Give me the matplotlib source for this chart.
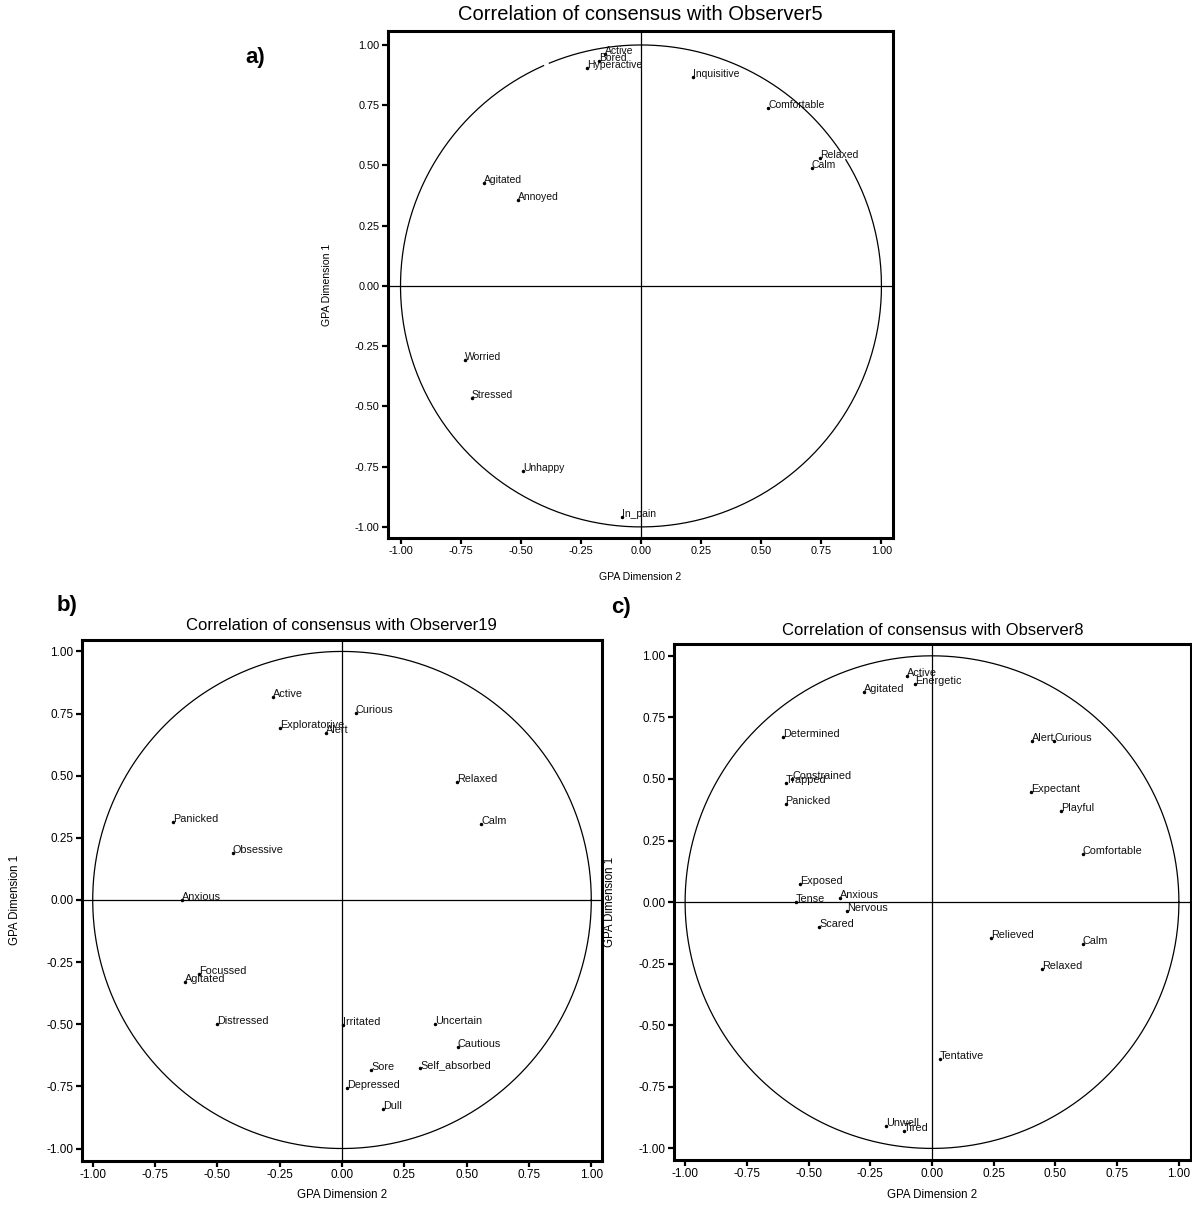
import numpy as np
import matplotlib
matplotlib.use("Agg")
import matplotlib.pyplot as plt

plt.rcParams['font.family'] = ['Liberation Sans', 'DejaVu Sans']
plt.rcParams['axes.unicode_minus'] = False

# ---------------- data ----------------
# Panel a: Observer5
a_labels = ["Active", "Bored", "Hyperactive", "Inquisitive", "Comfortable", "Relaxed",
            "Calm", "Agitated", "Annoyed", "Worried", "Stressed", "Unhappy", "In_pain"]
a_dim2 = [-0.15, -0.175, -0.226, 0.218, 0.529, 0.744, 0.71, -0.653, -0.51, -0.732, -0.704, -0.489, -0.08]
a_dim1 = [0.963, 0.935, 0.903, 0.869, 0.740, 0.530, 0.49, 0.429, 0.357, -0.307, -0.466, -0.77, -0.957]

# Panel b: Observer19
b_labels = ["Active", "Curious", "Exploratorive", "Alert", "Relaxed", "Calm", "Panicked",
            "Obsessive", "Anxious", "Focussed", "Agitated", "Distressed", "Irritated",
            "Uncertain", "Cautious", "Self_absorbed", "Sore", "Depressed", "Dull"]
b_dim2 = [-0.275, 0.056, -0.249, -0.064, 0.46, 0.558, -0.679, -0.439, -0.64, -0.574, -0.631,
          -0.5, 0.005, 0.374, 0.465, 0.314, 0.117, 0.02, 0.163]
b_dim1 = [0.816, 0.751, 0.691, 0.671, 0.476, 0.305, 0.315, 0.188, 0.0, -0.298, -0.329,
          -0.499, -0.503, -0.499, -0.59, -0.677, -0.684, -0.755, -0.843]

# Panel c: Observer8
c_labels = ["Active", "Energetic", "Agitated", "Determined", "Alert", "Curious", "Constrained",
            "Trapped", "Panicked", "Expectant", "Playful", "Comfortable", "Exposed", "Anxious",
            "Tense", "Nervous", "Scared", "Relieved", "Calm", "Relaxed", "Tentative", "Unwell", "Tired"]
c_dim2 = [-0.103, -0.068, -0.276, -0.605, 0.404, 0.496, -0.567, -0.593, -0.593, 0.40, 0.521,
          0.61, -0.536, -0.372, -0.552, -0.345, -0.456, 0.24, 0.61, 0.445, 0.031, -0.185, -0.113]
c_dim1 = [0.918, 0.884, 0.854, 0.671, 0.653, 0.653, 0.5, 0.483, 0.399, 0.447, 0.368,
          0.194, 0.072, 0.018, -0.001, -0.035, -0.1, -0.144, -0.171, -0.27, -0.637, -0.908, -0.929]

ticks = [-1.00, -0.75, -0.50, -0.25, 0.00, 0.25, 0.50, 0.75, 1.00]
tick_labels = ["%.2f" % t for t in ticks]

W, H = 1192, 1207
fig = plt.figure(figsize=(W / 100, H / 100), dpi=100)


def make_axes(left, right, top, bottom):
    return fig.add_axes([left / W, 1 - bottom / H, (right - left) / W, (bottom - top) / H])


def panel(ax, xlim, ylim, labels, xs, ys, title, title_size, lab_size, tick_size,
          axlab_size, ylab_x, xlab_y, title_y, arcs=None):
    ax.set_xlim(*xlim)
    ax.set_ylim(*ylim)
    ax.axhline(0, color='black', lw=0.9)
    ax.axvline(0, color='black', lw=0.9)
    if arcs is None:
        arcs = [(0, 360)]
    for a0, a1 in arcs:
        th = np.radians(np.linspace(a0, a1, 400))
        ax.plot(np.cos(th), np.sin(th), color='black', lw=0.9)
    ax.plot(xs, ys, linestyle='none', marker='o', markersize=1.5, color='black')
    for lab, x, y in zip(labels, xs, ys):
        ax.text(x, y, lab, fontsize=lab_size, ha='left', va='baseline', color='#111111')
    ax.set_xticks(ticks)
    ax.set_xticklabels(tick_labels)
    ax.set_yticks(ticks)
    ax.set_yticklabels(tick_labels)
    ax.tick_params(direction='out', length=4, width=1.6, labelsize=tick_size, pad=2)
    for s in ax.spines.values():
        s.set_linewidth(2.2)
    ax.set_xlabel("GPA Dimension 2", fontsize=axlab_size, va='center')
    ax.set_ylabel("GPA Dimension 1", fontsize=axlab_size, va='center')
    ax.xaxis.set_label_coords(0.5, xlab_y)
    ax.yaxis.set_label_coords(ylab_x, 0.5)
    ax.text(0.5, title_y, title, transform=ax.transAxes, ha='center', va='center',
            fontsize=title_size)


# Panel a
ax_a = make_axes(388, 893, 31, 538)
panel(ax_a, (-1.052, 1.048), (-1.046, 1.058), a_labels, a_dim2, a_dim1,
      "Correlation of consensus with Observer5", 14.5, 7.5, 7.8, 7.6,
      -0.121, -0.077, 1.032, arcs=[(33.7, 112.4), (113.9, 391.6)])

# Panel b
ax_b = make_axes(82, 601.5, 640, 1160.7)
panel(ax_b, (-1.043, 1.041), (-1.049, 1.046), b_labels, b_dim2, b_dim1,
      "Correlation of consensus with Observer19", 12, 7.8, 8.5, 8.3,
      -0.129, -0.066, 1.027)

# Panel c
ax_c = make_axes(674, 1190.5, 643.5, 1160)
panel(ax_c, (-1.045, 1.047), (-1.047, 1.05), c_labels, c_dim2, c_dim1,
      "Correlation of consensus with Observer8", 12, 7.8, 8.5, 8.3,
      -0.124, -0.068, 1.026)

# panel letters
for txt, px, py in [("a)", 255, 57), ("b)", 67, 605), ("c)", 621, 607)]:
    fig.text(px / W, 1 - py / H, txt, fontsize=16, fontweight='bold',
             ha='center', va='center')

fig.savefig("out.png", dpi=100)
